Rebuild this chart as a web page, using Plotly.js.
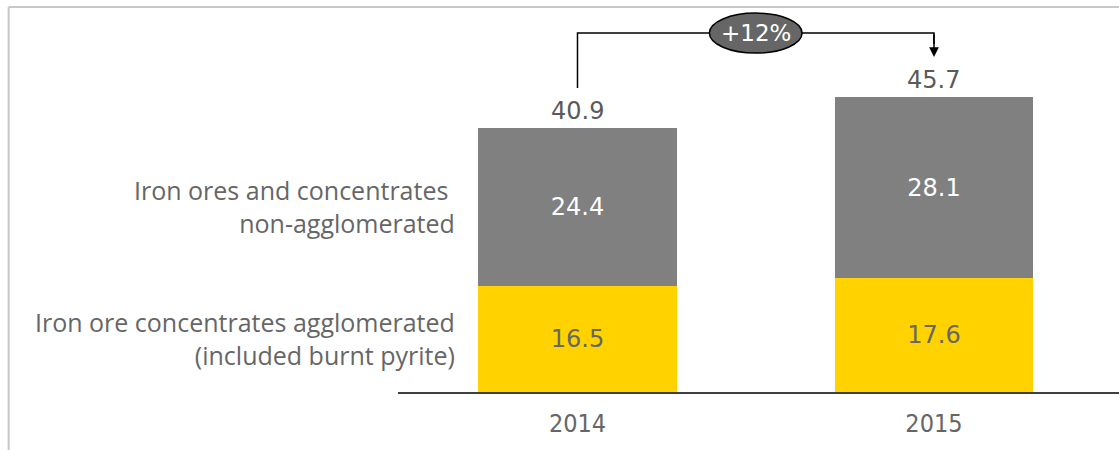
<!DOCTYPE html>
<html>
<head>
<meta charset="utf-8">
<script src="https://cdn.plot.ly/plotly-3.0.1.min.js"></script>
<style>html,body{margin:0;padding:0;background:#fff;}#chart{width:1119px;height:450px;}</style>
</head>
<body>
<div id="chart"></div>
<script>
var years = ['2014', '2015'];
var agglomerated = [16.5, 17.6];
var nonAgglomerated = [24.4, 28.1];
var seriesNames = ['Iron ore concentrates agglomerated<br>(included burnt pyrite)', 'Iron ores and concentrates&nbsp;<br>non-agglomerated'];
var changeLabel = '+12%';

var totals = years.map(function (y, i) { return +(agglomerated[i] + nonAgglomerated[i]).toFixed(1); });
var valueFont = 'DejaVu Sans, Verdana, sans-serif';
var labelFont = 'Open Sans, Noto Sans, sans-serif';

var traces = [
  {
    type: 'bar', x: years, y: agglomerated, name: seriesNames[0],
    marker: { color: '#FFD200' }, width: 0.558,
    text: agglomerated.map(function (v) { return v.toFixed(1); }),
    textposition: 'inside', insidetextanchor: 'middle',
    textfont: { family: valueFont, size: 24, color: '#666666' },
    hoverinfo: 'none'
  },
  {
    type: 'bar', x: years, y: nonAgglomerated, name: seriesNames[1],
    marker: { color: '#808080' }, width: 0.558,
    text: nonAgglomerated.map(function (v) { return v.toFixed(1); }),
    textposition: 'inside', insidetextanchor: 'middle',
    textfont: { family: valueFont, size: 24, color: '#ffffff' },
    hoverinfo: 'none'
  }
];

var annotations = [];
years.forEach(function (y, i) {
  annotations.push({
    x: i, y: totals[i], xref: 'x', yref: 'y', text: totals[i].toFixed(1),
    showarrow: false, yanchor: 'bottom', yshift: 1,
    font: { family: valueFont, size: 24, color: '#5a5a5a' }
  });
});
// series labels, aligned with the middle of the first bar's segments
annotations.push({
  x: -0.337, xref: 'x', y: agglomerated[0] / 2, yref: 'y', text: seriesNames[0],
  showarrow: false, xanchor: 'right', align: 'right',
  font: { family: labelFont, size: 25, color: '#666666' }
});
annotations.push({
  x: -0.337, xref: 'x', y: agglomerated[0] + nonAgglomerated[0] / 2, yref: 'y', text: seriesNames[1],
  showarrow: false, xanchor: 'right', align: 'right',
  font: { family: labelFont, size: 25, color: '#666666' }
});

var gap = 6.2;
var topY = Math.max.apply(null, totals) + 9.9;
// arrow down to second total
annotations.push({
  x: 1, y: totals[1] + gap, xref: 'x', yref: 'y',
  ax: 1, ay: topY, axref: 'x', ayref: 'y',
  showarrow: true, arrowhead: 2, arrowsize: 1.3, arrowwidth: 1.5, arrowcolor: '#000000', text: ''
});
// change label
annotations.push({
  x: 0.5, y: topY, xref: 'x', yref: 'y', text: changeLabel, showarrow: false,
  font: { family: valueFont, size: 23, color: '#ffffff' }
});

var shapes = [
  // frame
  { type: 'line', xref: 'paper', yref: 'paper', x0: -0.540, x1: 1.01, y0: 0.982, y1: 0.982, line: { color: '#c8c8c8', width: 2 } },
  { type: 'line', xref: 'paper', yref: 'paper', x0: -0.540, x1: -0.540, y0: 0.982, y1: -0.2, line: { color: '#c8c8c8', width: 2 } },
  // bracket
  { type: 'path', xref: 'x', yref: 'y',
    path: 'M 0 ' + (totals[0] + gap) + ' L 0 ' + topY + ' L 1 ' + topY + ' L 1 ' + (totals[1] + gap + 2),
    line: { color: '#000000', width: 1.5 } },
  // ellipse
  { type: 'circle', xref: 'x', yref: 'y', x0: 0.37, x1: 0.63, y0: topY - 3.1, y1: topY + 3.1,
    fillcolor: '#666666', line: { color: '#000000', width: 1.5 } }
];

var layout = {
  width: 1119, height: 450,
  margin: { l: 398, r: 0, t: 0, b: 58 },
  paper_bgcolor: '#ffffff', plot_bgcolor: '#ffffff',
  barmode: 'stack', showlegend: false,
  xaxis: {
    type: 'category', range: [-0.5035, 1.519], showline: true, linecolor: '#404040', linewidth: 2,
    showgrid: false, zeroline: false, ticks: '', ticklabelstandoff: 8,
    tickfont: { family: 'Liberation Sans Narrow, DejaVu Sans Condensed, sans-serif', size: 25, color: '#666666' },
    fixedrange: true
  },
  yaxis: { range: [0, 60.73], visible: false, showgrid: false, zeroline: false, fixedrange: true },
  annotations: annotations,
  shapes: shapes
};

Plotly.newPlot('chart', traces, layout, { displayModeBar: false, staticPlot: true });
</script>
</body>
</html>
